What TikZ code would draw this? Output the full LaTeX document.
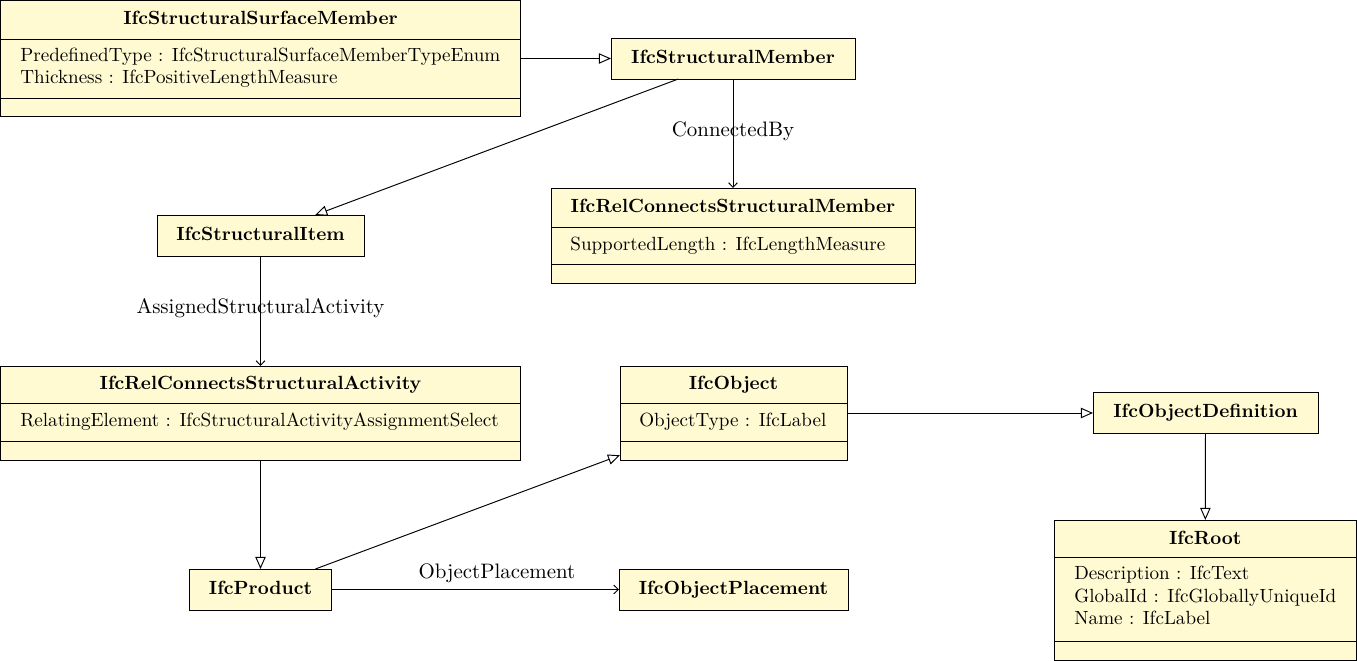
\documentclass[tikz,border=0pt]{standalone}
\usetikzlibrary{arrows.meta}
\begin{document}
\def\pxu{0.5236pt}
\definecolor{umlfill}{RGB}{255,250,210}
\tikzset{
  cls/.style={draw=black, fill=umlfill, line width=0.5pt, inner sep=0pt, outer sep=0pt},
  sep/.style={draw=black, line width=0.5pt},
  ttl/.style={font=\fontsize{10}{12}\selectfont\bfseries, anchor=base, inner sep=0pt},
  attr/.style={font=\fontsize{10}{12}\selectfont, anchor=base west, inner sep=0pt},
  rel/.style={font=\fontsize{10.95}{13}\selectfont, anchor=base, inner sep=0pt},
  inherit/.style={-{Triangle[open, length=6.3pt, width=5.4pt]}, line width=0.5pt},
  assoc/.style={-{Straight Barb[length=2.4pt, width=4.6pt]}, line width=0.5pt},
}
\begin{tikzpicture}[x=\pxu, y=-\pxu]
\useasboundingbox (0,0) rectangle (1357,661);

% IfcStructuralSurfaceMember
\node[cls, minimum width=520*\pxu, minimum height=116.5*\pxu] (ssm) at (260.5,58.5) {};
\draw[sep] (0.5,39) -- (520.5,39) (0.5,98) -- (520.5,98);
\node[ttl] (ssmT) at (260.5,24.5) {IfcStructuralSurfaceMember};
\node[attr] (ssmA1) at (20,61) {PredefinedType : IfcStructuralSurfaceMemberTypeEnum};
\node[attr] (ssmA2) at (20,83.5) {Thickness : IfcPositiveLengthMeasure};

% IfcStructuralMember
\node[cls, minimum width=244*\pxu, minimum height=41*\pxu] (sm) at (733,58.5) {};
\node[ttl] (smT) at (733,63) {IfcStructuralMember};

% IfcRelConnectsStructuralMember
\node[cls, minimum width=364*\pxu, minimum height=95*\pxu] (rcsm) at (733,235.5) {};
\draw[sep] (551,227) -- (915,227) (551,264) -- (915,264);
\node[ttl] (rcsmT) at (733,212) {IfcRelConnectsStructuralMember};
\node[attr] (rcsmA1) at (570,250) {SupportedLength : IfcLengthMeasure};

% IfcStructuralItem
\node[cls, minimum width=207*\pxu, minimum height=41*\pxu] (si) at (260.5,235.5) {};
\node[ttl] (siT) at (260.5,240.5) {IfcStructuralItem};

% IfcRelConnectsStructuralActivity
\node[cls, minimum width=520*\pxu, minimum height=94*\pxu] (rcsa) at (260.5,413) {};
\draw[sep] (0.5,403) -- (520.5,403) (0.5,441) -- (520.5,441);
\node[ttl] (rcsaT) at (260.5,389.5) {IfcRelConnectsStructuralActivity};
\node[attr] (rcsaA1) at (20,426.5) {RelatingElement : IfcStructuralActivityAssignmentSelect};

% IfcObject
\node[cls, minimum width=227*\pxu, minimum height=94*\pxu] (obj) at (733.5,413) {};
\draw[sep] (620,403) -- (847,403) (620,441) -- (847,441);
\node[ttl] (objT) at (733.5,389.5) {IfcObject};
\node[attr] (objA1) at (639,426.5) {ObjectType : IfcLabel};

% IfcObjectDefinition
\node[cls, minimum width=225*\pxu, minimum height=41*\pxu] (od) at (1205.5,413) {};
\node[ttl] (odT) at (1205.5,417.5) {IfcObjectDefinition};

% IfcRoot
\node[cls, minimum width=302.5*\pxu, minimum height=140*\pxu] (root) at (1205.25,590) {};
\draw[sep] (1054,557) -- (1356.5,557) (1054,641) -- (1356.5,641);
\node[ttl] (rootT) at (1205.25,544) {IfcRoot};
\node[attr] (rootA1) at (1074,579.5) {Description : IfcText};
\node[attr] (rootA2) at (1074,602) {GlobalId : IfcGloballyUniqueId};
\node[attr] (rootA3) at (1074,624.5) {Name : IfcLabel};

% IfcProduct
\node[cls, minimum width=142*\pxu, minimum height=41*\pxu] (prod) at (260.5,589.5) {};
\node[ttl] (prodT) at (260.5,594) {IfcProduct};

% IfcObjectPlacement
\node[cls, minimum width=229*\pxu, minimum height=41*\pxu] (op) at (733.5,589.5) {};
\node[ttl] (opT) at (733.5,594) {IfcObjectPlacement};

% generalisations
\draw[inherit] (ssm) -- (sm);
\draw[inherit] (sm) -- (si);
\draw[inherit] (rcsa) -- (prod);
\draw[inherit] (prod) -- (obj);
\draw[inherit] (obj) -- (od);
\draw[inherit] (od) -- (root);

% associations
\draw[assoc] (sm) -- (rcsm);
\node[rel] (lblConn) at (733,136) {ConnectedBy};
\draw[assoc] (si) -- (rcsa);
\node[rel] (lblAssign) at (260.5,313) {AssignedStructuralActivity};
\draw[assoc] (prod) -- (op);
\node[rel] (lblPlace) at (497,578.5) {ObjectPlacement};
\end{tikzpicture}
\end{document}
